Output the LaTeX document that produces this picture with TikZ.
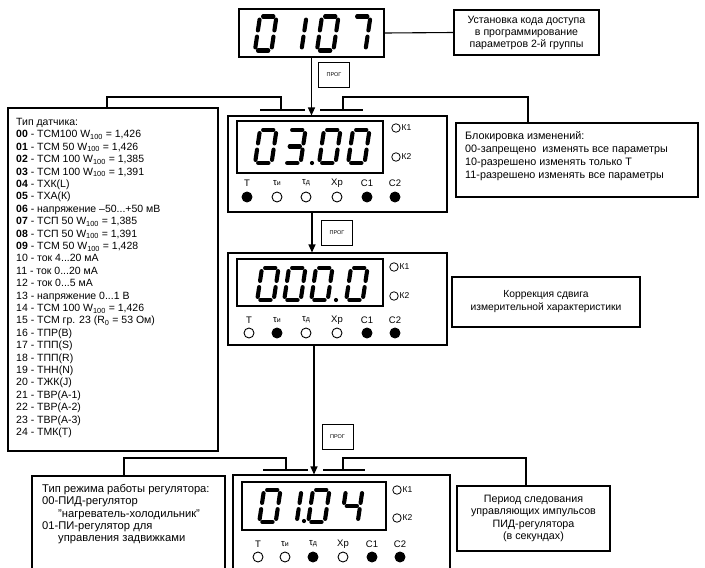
\documentclass[tikz,border=0pt]{standalone}
\usepackage{fontspec}
\setmainfont{Liberation Sans}
\usetikzlibrary{arrows.meta}
\newcommand\tsubs[1]{{\fontsize{7}{7}\selectfont #1}}
\newcommand\LabTi{τ\tsubs{и}}
\newcommand\LabTd{τ\tsubs{д}}
\def\dW{16.5}\def\dG{3.1}
\newcommand\sgm[1]{\ifcase#1\relax
 \draw[seg] (\dG,0) -- (\dW-\dG,0);\or
 \draw[seg] (\dW,\dG) -- (\dW,\dH/2-\dG);\or
 \draw[seg] (\dW,\dH/2+\dG) -- (\dW,\dH-\dG);\or
 \draw[seg] (\dG,\dH) -- (\dW-\dG,\dH);\or
 \draw[seg] (0,\dH/2+\dG) -- (0,\dH-\dG);\or
 \draw[seg] (0,\dG) -- (0,\dH/2-\dG);\or
 \draw[seg] (\dG,\dH/2) -- (\dW-\dG,\dH/2);\fi}
\newcommand\sdigit[4]{\begin{scope}[shift={(#1,#2)},xslant=0.15]\def\dH{#3}\foreach \s in #4 {\sgm{\s}}\end{scope}}
\def\Dz{0,1,2,3,4,5}\def\Do{1,2}\def\Dt{0,1,2,3,6}\def\Df{1,2,5,6}\def\Ds{0,1,2}
\begin{document}
\begin{tikzpicture}[x=1pt,y=-1pt,
  box/.style={draw, line width=1.1pt, inner sep=0pt},
  wire/.style={line width=1.1pt},
  arr/.style={line width=1.1pt, -{Triangle[length=8pt,width=7pt]}},
  seg/.style={line width=4.1pt, line cap=round},
  txt/.style={font=\fontsize{10.5}{12.4}\selectfont, inner sep=0pt},
  prog/.style={draw, line width=0.9pt, minimum width=31pt, minimum height=25pt, font=\fontsize{5.5}{6}\selectfont, inner sep=0pt},
  led/.style={circle, draw, line width=0.9pt, minimum size=10pt, inner sep=0pt},
  ledon/.style={led, fill=black},
  kled/.style={circle, draw, line width=0.8pt, minimum size=8.5pt, inner sep=0pt},
  klab/.style={font=\fontsize{8.5}{9}\selectfont, anchor=west, inner sep=0.8pt},
  plab/.style={font=\fontsize{9.5}{10}\selectfont, inner sep=0pt}
]
\useasboundingbox (0,0) rectangle (705,568);
% ---- boxes
\node[box, minimum width=145pt, minimum height=48pt] (d0) at (311.5,33) {};
\node[box, minimum width=145pt, minimum height=45pt, align=center, font=\fontsize{10.6}{12}\selectfont] (t0) at (526.5,32.5) {Установка кода доступа\\в программирование\\параметров 2-й группы};
\node[prog] (g1) at (334,75) {ПРОГ};
\node[box, minimum width=219pt, minimum height=96pt] (p1) at (337.5,164) {};
\node[box, minimum width=146pt, minimum height=52pt] (p1d) at (310,147) {};
\node[box, minimum width=210pt, minimum height=343pt] (sensor) at (113,279.5) {};
\node[box, minimum width=242pt, minimum height=74pt] (lock) at (577,160) {};
\node[prog] (g2) at (337,232.5) {ПРОГ};
\node[box, minimum width=219pt, minimum height=92pt] (p2) at (337.5,299) {};
\node[box, minimum width=146pt, minimum height=47pt] (p2d) at (310,282.5) {};
\node[box, minimum width=188pt, minimum height=50pt, align=center, font=\fontsize{10.3}{13}\selectfont] (corr) at (546,302) {Коррекция сдвига\\измерительной характеристики};
\node[prog] (g3) at (337.5,436.5) {ПРОГ};
\node[box, minimum width=217pt, minimum height=105pt] (p3) at (341.5,527.5) {};
\node[box, minimum width=144pt, minimum height=48pt] (p3d) at (314,506) {};
\node[box, minimum width=193pt, minimum height=104pt] (mode) at (128.5,528) {};
\node[box, minimum width=153pt, minimum height=65pt, align=center, font=\fontsize{10.7}{12.4}\selectfont] (period) at (533.5,518.5) {Период следования\\управляющих импульсов\\ПИД-регулятора\\(в секундах)};
% ---- texts
\node[txt, anchor=north west, align=left] (sensorT) at (16,118) {Тип датчика:\\
\textbf{00} - ТСМ100 W\textsubscript{100} = 1,426\\
\textbf{01} - ТСМ 50 W\textsubscript{100} = 1,426\\
\textbf{02} - ТСМ 100 W\textsubscript{100} = 1,385\\
\textbf{03} - ТСМ 100 W\textsubscript{100} = 1,391\\
\textbf{04} - ТХК(L)\\
\textbf{05} - ТХА(К)\\
\textbf{06} - напряжение –50...+50 мВ\\
\textbf{07} - ТСП 50 W\textsubscript{100} = 1,385\\
\textbf{08} - ТСП 50 W\textsubscript{100} = 1,391\\
\textbf{09} - ТСМ 50 W\textsubscript{100} = 1,428\\
10 - ток 4...20 мА\\
11 - ток 0...20 мА\\
12 - ток 0...5 мА\\
13 - напряжение 0...1 В\\
14 - ТСМ 100 W\textsubscript{100} = 1,426\\
15 - ТСМ гр. 23 (R\textsubscript{0} = 53 Ом)\\
16 - ТПР(В)\\
17 - ТПП(S)\\
18 - ТПП(R)\\
19 - ТНН(N)\\
20 - ТЖК(J)\\
21 - ТВР(А-1)\\
22 - ТВР(А-2)\\
23 - ТВР(А-3)\\
24 - ТМК(Т)};
\node[txt, anchor=north west, align=left, font=\fontsize{10.8}{13}\selectfont] (lockT) at (465,131) {Блокировка изменений:\\
00-запрещено\ \ изменять все параметры\\
10-разрешено изменять только Т\\
11-разрешено изменять все параметры};
\node[txt, anchor=north west, align=left, font=\fontsize{11.2}{12.3}\selectfont] (modeT) at (42,484) {Тип режима работы регулятора:\\
00-ПИД-регулятор\\
\hspace*{16pt}"нагреватель-холодильник"\\
01-ПИ-регулятор для\\
\hspace*{16pt}управления задвижками};
% ---- connectors
\draw[wire] (d0.east) -- (t0.west);
\draw[arr] (d0.south) -- (d0.south |- p1.north);
\draw[arr] (p1.south -| 312,0) -- (p2.north -| 312,0);
\draw[arr] (p2.south -| 314,0) -- (p3.north -| 314,0);
% bracket 1
\coordinate (b1a) at (260,110); \coordinate (b1b) at (305,110);
\coordinate (b1c) at (320,110); \coordinate (b1d) at (363,110);
\coordinate (b1l) at (281,110); \coordinate (b1r) at (343,110);
\draw[wire] (b1a) -- (b1b); \draw[wire] (b1c) -- (b1d);
\draw[wire] (b1l) |- (107,97) -- (sensor.north -| 107,0);
\draw[wire] (b1r) |- (528,97) -- (lock.north -| 528,0);
% bracket 3
\coordinate (b3a) at (263,470); \coordinate (b3b) at (308,470);
\coordinate (b3c) at (323,470); \coordinate (b3d) at (365,470);
\coordinate (b3l) at (286,470); \coordinate (b3r) at (343,470);
\draw[wire] (b3a) -- (b3b); \draw[wire] (b3c) -- (b3d);
\draw[wire] (b3l) |- (124,458) -- (mode.north -| 124,0);
\draw[wire] (b3r) |- (526,458) -- (period.north -| 526,0);
% ---- digits
\sdigit{260}{16.5}{34}{\Dz}\sdigit{290}{16.5}{34}{\Do}\sdigit{322}{16.5}{34}{\Dz}\sdigit{354}{16.5}{34}{\Ds}
\sdigit{260}{130}{33}{\Dz}\sdigit{289}{130}{33}{\Dt}\sdigit{324}{130}{33}{\Dz}\sdigit{353}{130}{33}{\Dz}
\fill (312,163) circle (2.1);
\sdigit{262}{268}{32}{\Dz}\sdigit{289}{268}{32}{\Dz}\sdigit{316}{268}{32}{\Dz}\sdigit{351}{268}{32}{\Dz}
\fill (336,300) circle (2.1);
\sdigit{264}{490}{32}{\Dz}\sdigit{285}{490}{32}{\Do}\sdigit{313}{490}{32}{\Dz}\sdigit{346}{490}{32}{\Df}
\fill (304,521) circle (2.1);
% ---- K leds
\node[kled] (p1k1) at (396,128) {}; \node[klab] at (p1k1.east) {К1};
\node[kled] (p1k2) at (396,157) {}; \node[klab] at (p1k2.east) {К2};
\node[kled] (p2k1) at (394,267) {}; \node[klab] at (p2k1.east) {К1};
\node[kled] (p2k2) at (394,296) {}; \node[klab] at (p2k2.east) {К2};
\node[kled] (p3k1) at (397,490) {}; \node[klab] at (p3k1.east) {К1};
\node[kled] (p3k2) at (397,518) {}; \node[klab] at (p3k2.east) {К2};
% ---- indicator rows
\foreach \x/\lab/\st [count=\i] in {247/T/ledon, 277/\LabTi/led, 306/\LabTd/led, 337/Xp/led, 367/C1/ledon, 395/C2/ledon}
 {\node[plab] (p1l\i) at (\x,183) {\lab}; \node[\st] (p1c\i) at (\x,197) {};}
\foreach \x/\lab/\st [count=\i] in {249/T/led, 277/\LabTi/ledon, 306/\LabTd/led, 337/Xp/led, 367/C1/ledon, 395/C2/ledon}
 {\node[plab] (p2l\i) at (\x,320) {\lab}; \node[\st] (p2c\i) at (\x,333) {};}
\foreach \x/\lab/\st [count=\i] in {258/T/led, 285/\LabTi/led, 313/\LabTd/ledon, 343/Xp/led, 372/C1/ledon, 400/C2/ledon}
 {\node[plab] (p3l\i) at (\x,544) {\lab}; \node[\st] (p3c\i) at (\x,557) {};}
\end{tikzpicture}
\end{document}
